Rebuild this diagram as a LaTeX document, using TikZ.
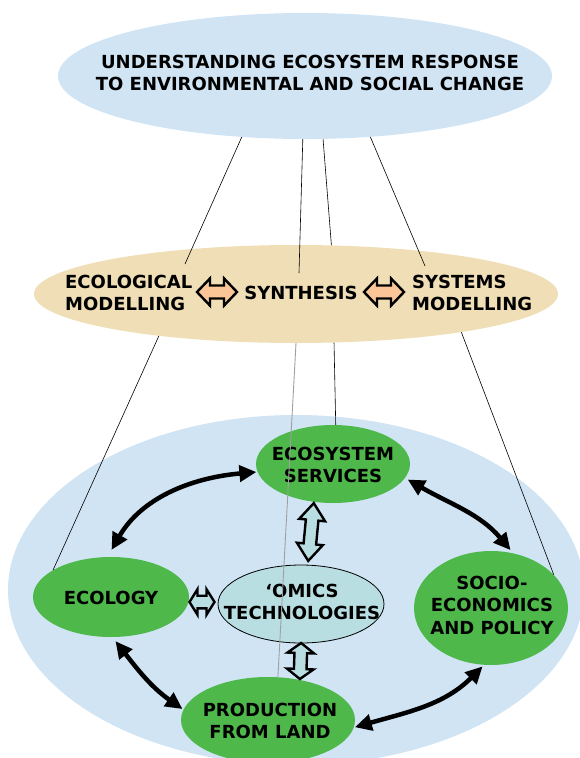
\documentclass[tikz,border=0pt]{standalone}
\usepackage{fontspec}
\setmainfont{DejaVu Sans}
\usetikzlibrary{shapes.geometric,arrows.meta}
\definecolor{skyfill}{RGB}{208,228,244}
\definecolor{sandfill}{RGB}{239,222,182}
\definecolor{leaf}{RGB}{78,184,74}
\definecolor{omicsfill}{RGB}{185,222,226}
\definecolor{peach}{RGB}{250,198,152}
\definecolor{thingray}{RGB}{160,160,160}
% #1 centre, #2 angle, #3 half length, #4 half shaft, #5 half head, #6 head length, #7 fill
\newcommand{\blockarrow}[7]{%
  \draw[hollowline, fill=#7, shift={#1}, rotate=#2]
    (-#3,0) -- (-#3+#6,#5) -- (-#3+#6,#4) -- (#3-#6,#4) -- (#3-#6,#5) -- (#3,0)
    -- (#3-#6,-#5) -- (#3-#6,-#4) -- (-#3+#6,-#4) -- (-#3+#6,-#5) -- cycle;}
\begin{document}
\begin{tikzpicture}[x=1pt,y=-1pt,
  lbl/.style={font=\fontsize{18}{22.5}\selectfont\bfseries, align=center, text=black, inner sep=0pt},
  blob/.style={ellipse, inner sep=0pt},
  greenblob/.style={blob, fill=leaf},
  bigarr/.style={line width=4.5pt, {Triangle[length=17pt,width=16pt]}-{Triangle[length=17pt,width=16pt]}},
  hollowline/.style={draw=black, line width=2.4pt, line join=miter},
  link/.style={line width=0.6pt, black},
  greylink/.style={line width=0.9pt, thingray}]
\useasboundingbox (0,0) rectangle (580,758);

% background ellipses
\node[blob, fill=skyfill, minimum width=576pt, minimum height=350pt] (base) at (296,590) {};
\node[blob, fill=skyfill, minimum width=494pt, minimum height=126pt] (goal) at (305,76) {};
\node[lbl] (goaltext) at (310,73) {UNDERSTANDING ECOSYSTEM RESPONSE\\TO ENVIRONMENTAL AND SOCIAL CHANGE};
\node[blob, fill=sandfill, minimum width=524pt, minimum height=98pt] (mid) at (296,294) {};

% middle level texts
\node[lbl, align=left, anchor=west] (ecomod) at (65,293) {ECOLOGICAL\\MODELLING};
\node[lbl] (synth) at (301,293) {SYNTHESIS};
\node[lbl, align=left, anchor=west] (sysmod) at (412,293) {SYSTEMS\\MODELLING};
\blockarrow{(217,292)}{0}{20}{6.5}{13.6}{13}{peach}
\blockarrow{(384,292)}{0}{20}{6.5}{13.6}{13}{peach}

% lower level nodes
\node[greenblob, minimum width=154pt, minimum height=78pt] (ess) at (333,464) {};
\node[lbl] (esst) at (333,465) {ECOSYSTEM\\SERVICES};
\node[greenblob, minimum width=156pt, minimum height=80pt] (ecol) at (111,597) {};
\node[lbl] (ecolt) at (111,598) {ECOLOGY};
\node[greenblob, minimum width=154pt, minimum height=114pt] (socio) at (491,608) {};
\node[lbl] (sociot) at (492,605) {SOCIO-\\ECONOMICS\\AND POLICY};
\node[greenblob, minimum width=174pt, minimum height=86pt] (prod) at (268,720) {};
\node[lbl] (prodt) at (270,721) {PRODUCTION\\FROM LAND};
\node[blob, draw=black, line width=0.8pt, fill=omicsfill, minimum width=166pt, minimum height=78pt] (omics) at (301,604) {};
\node[lbl] (omicst) at (302,602) {‘OMICS\\TECHNOLOGIES};

% hollow double arrows
\blockarrow{(311,532)}{84.5}{29}{6.3}{13}{17}{omicsfill}
\blockarrow{(202,602)}{0}{12.5}{6.3}{12.8}{8}{omicsfill}
\blockarrow{(300.5,661)}{88}{18}{6.3}{13.3}{10}{omicsfill}

% thick black double arrows
\draw[bigarr, shorten <=8pt, shorten >=1pt] (ecol.95) to[out=60, in=185] (ess.186);
\draw[bigarr, shorten <=3pt, shorten >=4pt] (ess.-11) to[out=-30, in=130] (socio.68);
\draw[bigarr, shorten <=5pt, shorten >=1pt] (ecol.-88) to[out=-52, in=145] (prod.173);
\draw[bigarr, shorten <=1pt, shorten >=2pt] (prod.-5) to[out=16, in=225] (socio.-97);

% thin connecting lines
\coordinate (e1) at (185,264);
\coordinate (e2) at (299,273);
\coordinate (e4) at (425,266);
\draw[link] (goal.-136.8) -- (e1);
\draw[link] (goal.-92.7) -- (e2);
\draw[link] (goal.-74.9) -- (mid.54.2);
\draw[link] (goal.-43.1) -- (e4);
\draw[link] (mid.-163.4) -- (ecol.155);
\draw[greylink] (mid.-90) -- (prod.77);
\draw[link] (mid.-52.7) -- (ess.86);
\draw[link] (mid.-13.4) -- (socio.28);
\end{tikzpicture}
\end{document}
